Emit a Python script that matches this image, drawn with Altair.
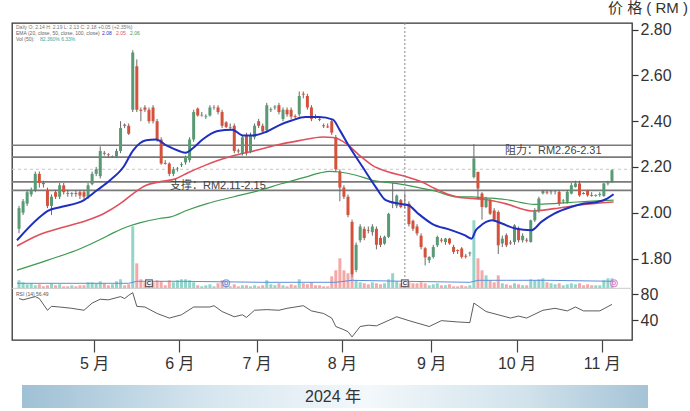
import altair as alt
import pandas as pd

# ---------------- data ----------------
opens = [1.93,2.00,2.04,2.08,2.10,2.17,2.13,2.10,2.03,2.09,
         2.07,2.12,2.085,2.082,2.086,2.09,2.09,2.07,2.125,2.17,
         2.16,2.262,2.255,2.245,2.245,2.27,2.385,2.38,2.45,2.64,
         2.45,2.46,2.45,2.46,2.40,2.32,2.218,2.215,2.17,2.19,
         2.208,2.22,2.23,2.32,2.455,2.425,2.42,2.425,2.46,2.46,
         2.44,2.395,2.375,2.38,2.272,2.26,2.34,2.27,2.33,2.40,
         2.38,2.36,2.448,2.46,2.47,2.41,2.45,2.45,2.422,2.43,
         2.52,2.51,2.46,2.42,2.41,2.382,2.377,2.40,2.33,2.18,
         2.11,2.07,1.96,1.75,1.88,1.93,1.925,1.915,1.93,1.89,
         1.865,1.895,2.04,2.03,2.055,2.036,2.04,1.965,1.94,1.90,
         1.845,1.793,1.807,1.858,1.882,1.872,1.887,1.851,1.837,1.844,
         1.812,1.822,2.156,2.178,2.084,2.025,2.055,2.01,2.003,1.866,
         1.902,1.87,1.872,1.931,1.88,1.882,1.872,1.967,2.011,2.085,
         2.092,2.09,2.093,2.091,2.05,2.048,2.084,2.113,2.128,2.086,
         2.098,2.078,2.074,2.078,2.073,2.128,2.139]
closes = [2.02,2.05,2.09,2.10,2.17,2.13,2.125,2.03,2.07,2.07,
          2.12,2.09,2.082,2.086,2.082,2.075,2.07,2.12,2.17,2.19,
          2.27,2.258,2.252,2.248,2.27,2.37,2.38,2.345,2.70,2.45,
          2.445,2.45,2.40,2.40,2.32,2.215,2.214,2.17,2.19,2.193,
          2.212,2.245,2.32,2.44,2.425,2.428,2.423,2.46,2.462,2.44,
          2.38,2.375,2.372,2.27,2.268,2.33,2.26,2.34,2.38,2.38,
          2.355,2.47,2.452,2.464,2.44,2.45,2.43,2.42,2.418,2.51,
          2.516,2.46,2.41,2.416,2.406,2.378,2.373,2.35,2.19,2.11,
          2.07,1.99,1.73,1.86,1.94,1.89,1.922,1.94,1.86,1.86,
          1.895,1.995,2.044,2.075,2.025,2.032,1.95,1.93,1.91,1.85,
          1.805,1.807,1.85,1.894,1.878,1.887,1.866,1.829,1.833,1.807,
          1.808,1.826,2.237,2.106,2.025,2.062,1.996,1.97,1.858,1.887,
          1.858,1.866,1.945,1.880,1.90,1.878,1.967,2.011,2.062,2.095,
          2.088,2.093,2.097,2.040,2.054,2.091,2.120,2.128,2.076,2.082,
          2.076,2.074,2.078,2.082,2.128,2.135,2.186]
highs = [2.03,2.06,2.10,2.11,2.18,2.18,2.14,2.11,2.08,2.10,
         2.13,2.13,2.10,2.09,2.10,2.10,2.10,2.13,2.18,2.20,
         2.29,2.27,2.26,2.25,2.28,2.40,2.39,2.39,2.71,2.67,
         2.46,2.47,2.46,2.47,2.41,2.33,2.23,2.22,2.20,2.20,
         2.22,2.25,2.33,2.45,2.46,2.44,2.43,2.47,2.47,2.47,
         2.45,2.40,2.39,2.39,2.28,2.34,2.35,2.35,2.39,2.41,
         2.39,2.48,2.46,2.47,2.48,2.46,2.46,2.46,2.43,2.53,
         2.53,2.52,2.47,2.43,2.42,2.39,2.39,2.41,2.34,2.19,
         2.12,2.08,1.97,1.87,1.95,1.94,1.94,1.95,1.94,1.90,
         1.90,2.00,2.13,2.08,2.06,2.085,2.05,1.97,1.95,1.91,
         1.85,1.81,1.86,1.90,1.89,1.89,1.89,1.86,1.84,1.85,
         1.82,1.83,2.30,2.18,2.09,2.07,2.06,2.02,2.01,1.90,
         1.91,1.88,1.95,1.94,1.91,1.89,1.97,2.02,2.07,2.10,
         2.10,2.10,2.10,2.10,2.06,2.10,2.13,2.14,2.14,2.09,
         2.10,2.09,2.08,2.09,2.13,2.14,2.19]
lows = [1.91,1.99,2.03,2.07,2.09,2.11,2.11,2.02,1.99,2.06,
        2.06,2.08,2.07,2.07,2.07,2.06,2.06,2.06,2.12,2.16,
        2.15,2.25,2.24,2.24,2.24,2.26,2.37,2.34,2.44,2.44,
        2.40,2.44,2.39,2.39,2.31,2.21,2.21,2.16,2.16,2.18,
        2.20,2.21,2.22,2.31,2.42,2.42,2.41,2.42,2.45,2.43,
        2.37,2.37,2.36,2.26,2.26,2.25,2.25,2.26,2.32,2.37,
        2.35,2.35,2.44,2.45,2.43,2.40,2.42,2.41,2.41,2.42,
        2.50,2.45,2.40,2.41,2.40,2.37,2.37,2.34,2.18,2.05,
        2.06,1.98,1.72,1.74,1.87,1.88,1.91,1.90,1.84,1.85,
        1.86,1.89,2.02,2.02,2.02,2.02,1.94,1.92,1.90,1.84,
        1.77,1.78,1.80,1.85,1.87,1.86,1.86,1.82,1.82,1.80,
        1.80,1.81,2.15,2.06,1.97,2.02,1.99,1.96,1.82,1.85,
        1.85,1.86,1.86,1.87,1.87,1.87,1.87,1.96,2.00,2.08,
        2.08,2.08,2.08,2.03,2.04,2.04,2.08,2.11,2.07,2.08,
        2.07,2.07,2.07,2.07,2.07,2.12,2.13]
volumes = [8,6,4,5,3,4,2,3,5,3,
           4,2,2,3,2,3,3,6,6,5,
           7,5,3,4,7,9,3,4,62,25,
           9,6,4,6,8,7,3,8,6,8,
           9,9,8,6,3,2,3,4,2,5,
           8,4,2,4,2,3,3,2,3,2,
           3,8,4,3,5,3,2,4,3,9,
           5,4,6,3,3,2,2,12,18,30,
           18,15,13,8,6,5,4,6,5,4,
           5,9,15,7,5,4,6,5,5,6,
           5,3,4,5,3,3,4,2,2,3,
           2,3,68,30,18,13,8,6,13,5,
           4,3,5,4,3,3,9,8,9,10,
           6,5,4,5,3,4,5,4,5,3,
           4,3,3,3,8,10,10]

# moving averages (day position, value)
ema20_days = [-0.5,4.7,7.1,10.3,16,19.2,22.4,25.7,28.1,31.3,33.7,36.4,39.4,41,43,45.2,48.9,52.5,55.1,57.6,60.8,64,67.3,70.5,73.9,77.3,79,81.4,84.6,87.8,90.3,93.5,95.9,98.3,101.6,106.4,109.7,111.4,112.5,113.3,116.5,118.9,122.2,126.2,128.6,131.8,135.9,139.1,142.4,144.8,146.4]
ema20_vals = [1.88,1.975,2.008,2.025,2.055,2.098,2.142,2.20,2.273,2.317,2.32,2.293,2.27,2.262,2.285,2.32,2.357,2.363,2.338,2.338,2.353,2.382,2.404,2.418,2.418,2.407,2.36,2.287,2.20,2.113,2.055,2.04,2.033,1.996,1.953,1.924,1.902,1.887,1.924,1.938,1.967,1.953,1.931,1.924,1.96,1.996,2.025,2.04,2.047,2.062,2.081]
ema50_days = [-0.5,4.7,11.1,16.8,20.8,24.9,28.1,31.3,34.6,38.6,41.6,45.8,49.1,52.5,58.4,63.2,68.7,74.9,77.3,80.6,83.8,87,91,95.1,99.1,102.4,105.6,108,111.7,114.9,119.7,126.2,131.8,137.5,146.4]
ema50_vals = [1.855,1.902,1.938,1.967,1.996,2.04,2.084,2.12,2.135,2.149,2.175,2.207,2.229,2.248,2.273,2.295,2.314,2.331,2.329,2.302,2.251,2.207,2.178,2.159,2.135,2.106,2.081,2.069,2.062,2.058,2.04,2.008,2.018,2.033,2.047]
ema100_days = [-0.5,7.1,15.2,20,23.2,26.5,29.7,34.6,37.4,41.4,46.3,52.7,59.2,64.8,70.5,74.1,76.5,78.9,83,87,92.7,97.5,102.4,108,111.7,114.9,119.7,127,131.8,137.5,146.4]
ema100_vals = [1.749,1.793,1.844,1.883,1.912,1.938,1.956,1.975,1.982,2.011,2.04,2.069,2.098,2.128,2.156,2.174,2.181,2.178,2.164,2.142,2.128,2.113,2.095,2.069,2.069,2.065,2.058,2.037,2.04,2.047,2.055]
volma_days = [-0.5,27,29,40,60,78,82,95,111,113,120,130,146.5]
volma_vals = [5,5,7,7,6,6,8,7,6,8,8,8,7]

osc_days = [0,1,4,5,7,8,10,13,16,18,20,22,25,26,27,28,29,31,34,37,40,43,47,48,50,53,55,56,58,61,
            64,66,70,72,75,77,78,80,81,82,84,86,88,93,96,101,104,108,111,112,115,118,121,123,125,129,132,135,137,139,143,146]
osc_vals = [73,71,76,73,55,61,60,58,55,66,72,71,76,73,78,82,61,60,50,43,48,60,60,62,53,45,48,44,55,56,
            55,58,62,54,50,43,30,25,22,14,30,32,31,45,39,30,39,37,36,66,53,48,43,46,43,55,58,54,60,54,54,64]

level_prices = [2.295, 2.243, 2.135, 2.098]
grid_price = [2.19]
marker_days = [32, 51, 95, 146.5]
marker_types = ["C", "D", "C", "D"]
marker_colors = ["#333333", "#4a7fd6", "#333333", "#d46fc2"]
marker_shapes = ["square", "circle", "square", "circle"]

month_first_day = [19, 40, 59, 80, 102, 123, 144]
month_labels = ["5 月", "6 月", "7 月", "8 月", "9 月", "10 月", "11 月"]
price_ticks = [1.8, 2.0, 2.2, 2.4, 2.6, 2.8]
osc_ticks = [40, 80]

# ---------------- frames ----------------
n = len(closes)
df = pd.DataFrame({"idx": list(range(n)), "open": opens, "close": closes,
                   "high": highs, "low": lows, "vol": volumes})
df["dir"] = ["up" if c >= o else "down" for o, c in zip(opens, closes)]

ema20 = pd.DataFrame({"idx": ema20_days, "v": ema20_vals})
ema50 = pd.DataFrame({"idx": ema50_days, "v": ema50_vals})
ema100 = pd.DataFrame({"idx": ema100_days, "v": ema100_vals})
volma = pd.DataFrame({"idx": volma_days, "v": volma_vals})
osc = pd.DataFrame({"idx": osc_days, "v": osc_vals})
levels = pd.DataFrame({"p": level_prices})
grid = pd.DataFrame({"p": grid_price})
markers = pd.DataFrame({"idx": marker_days, "t": marker_types, "c": marker_colors,
                        "s": marker_shapes, "v": [5] * 4})
vline = pd.DataFrame({"idx": [95]})

FONT = "Liberation Sans, Noto Sans CJK SC"
W, H = 620, 317

tick_vals = [d - 0.5 for d in month_first_day]
label_expr = "''"
for v, l in reversed(list(zip(tick_vals, month_labels))):
    label_expr = f"datum.value == {v} ? '{l}' : {label_expr}"

xscale = alt.Scale(domain=[-0.5, 149.7], nice=False, zero=False)
x_enc = alt.X("idx:Q", scale=xscale, title=None,
              axis=alt.Axis(values=tick_vals, labelExpr=label_expr, orient="bottom",
                            tickSize=12, tickColor="#444", tickWidth=1.2, domain=False,
                            grid=False, labelFontSize=16, labelColor="#333",
                            labelFont=FONT, labelPadding=3))

pscale = alt.Scale(domain=[1.670, 2.829], range=[265.3, 0], nice=False, zero=False)
vscale = alt.Scale(domain=[0, 265.3], range=[265.3, 0], nice=False, zero=False)
oscale = alt.Scale(domain=[0, 100], range=[323, 258], nice=False, zero=False)

price_axis = alt.Axis(values=price_ticks, format=".2f", orient="right", tickSize=6,
                      tickColor="#333", tickWidth=1.2, domain=False, grid=False,
                      labelFontSize=16, labelColor="#333", labelFont=FONT, labelPadding=2)
osc_axis = alt.Axis(values=osc_ticks, format="d", orient="right", tickSize=6,
                    tickColor="#333", tickWidth=1.2, domain=False, grid=False,
                    labelFontSize=16, labelColor="#333", labelFont=FONT, labelPadding=2)

updown = alt.Color("dir:N", scale=alt.Scale(domain=["up", "down"], range=["#579a74", "#d4523c"]), legend=None)
volcol = alt.Color("dir:N", scale=alt.Scale(domain=["up", "down"], range=["#93d5cb", "#f4a9a7"]), legend=None)

base = alt.Chart(df)

# price layers
wicks = base.mark_rule(color="#6a6a6a", strokeWidth=1).encode(
    x=x_enc, y=alt.Y("low:Q", scale=pscale, axis=price_axis, title=None), y2="high:Q")
bodies = base.mark_bar(size=3).encode(
    x=x_enc, y=alt.Y("open:Q", scale=pscale, axis=None), y2="close:Q", color=updown)

grid_rule = alt.Chart(grid).mark_rule(color="#c8c8c8", strokeDash=[3, 3], strokeWidth=1).encode(
    y=alt.Y("p:Q", scale=pscale, axis=None), x=alt.value(0), x2=alt.value(W))
level_rules = alt.Chart(levels).mark_rule(color="#7a7a7a", strokeWidth=1.6).encode(
    y=alt.Y("p:Q", scale=pscale, axis=None), x=alt.value(0), x2=alt.value(W))

def ma(d, color, width):
    return alt.Chart(d).mark_line(color=color, strokeWidth=width, interpolate="monotone").encode(
        x=x_enc, y=alt.Y("v:Q", scale=pscale, axis=None))

l100 = ma(ema100, "#3e9a4e", 1.2)
l50 = ma(ema50, "#e0505c", 1.6)
l20 = ma(ema20, "#1f2fc0", 2.0)

vrule = alt.Chart(vline).mark_rule(color="#888", strokeDash=[2, 2], strokeWidth=1).encode(
    x=x_enc, y=alt.value(0), y2=alt.value(255))

# volume layers
vbars = base.mark_bar(size=3).encode(
    x=x_enc, y=alt.Y("vol:Q", scale=vscale, axis=None), y2=alt.datum(0), color=volcol)
vbase = alt.Chart(pd.DataFrame({"v": [0]})).mark_rule(color="#c9c9c9", strokeWidth=1).encode(
    y=alt.Y("v:Q", scale=vscale, axis=None), x=alt.value(0), x2=alt.value(W))
vma = alt.Chart(volma).mark_line(color="#5a8fdc", strokeWidth=1).encode(
    x=x_enc, y=alt.Y("v:Q", scale=vscale, axis=None))
mpts = alt.Chart(markers).mark_point(size=45, filled=True, fill="white", strokeWidth=1.2).encode(
    x=x_enc, y=alt.Y("v:Q", scale=vscale, axis=None),
    shape=alt.Shape("s:N", scale=None), stroke=alt.Stroke("c:N", scale=None))
mtxt = alt.Chart(markers).mark_text(fontSize=6, font=FONT, fontWeight="bold").encode(
    x=x_enc, y=alt.Y("v:Q", scale=vscale, axis=None), text="t:N",
    color=alt.Color("c:N", scale=None))

# oscillator
oscl = alt.Chart(osc).mark_line(color="#333", strokeWidth=0.8).encode(
    x=x_enc, y=alt.Y("v:Q", scale=oscale, axis=osc_axis, title=None))

# annotations / decorations
def txt(s, x, y, size=11, color="#444", align="left", baseline="middle", weight="normal"):
    return alt.Chart(pd.DataFrame({"t": [s]})).mark_text(
        fontSize=size, color=color, align=align, baseline=baseline, font=FONT,
        fontWeight=weight).encode(text="t:N", x=alt.value(x), y=alt.value(y))

support = txt("支撑：RM2.11-2.15", 158, 163, 11)
resist = txt("阻力：RM2.26-2.31", 493, 128, 11)
title = txt("价 格 ( RM )", 676, -15, 15, "#333", "right")
head1 = txt("Daily  O: 2.14  H: 2.19  L: 2.13  C: 2.18  +0.05 (+2.35%)", 4, 2, 5, "#777", "left", "top")
head2 = txt("EMA (20, close, 50, close, 100, close)", 4, 8, 5, "#666", "left", "top")
head2a = txt("2.08", 90, 8, 5, "#1f2fc0", "left", "top")
head2b = txt("2.05", 104, 8, 5, "#e0505c", "left", "top")
head2c = txt("2.06", 118, 8, 5, "#3e9a4e", "left", "top")
head3 = txt("Vol (50):", 4, 14, 5, "#666", "left", "top")
head3a = txt("82.360%  6.33%", 28, 14, 5, "#3aa69a", "left", "top")
osclab = txt("RSI (14)  56.49", 4, 269, 5, "#555", "left", "top")

band = alt.Chart(pd.DataFrame({"a": [0]})).mark_rect(
    color=alt.Gradient(gradient="linear", x1=0, x2=1, y1=0, y2=0,
                       stops=[alt.GradientStop(color="#9fc0d5", offset=0),
                              alt.GradientStop(color="#d6e6ef", offset=0.3),
                              alt.GradientStop(color="#f3f8fb", offset=0.55),
                              alt.GradientStop(color="#d2e3ec", offset=0.8),
                              alt.GradientStop(color="#a4c3d6", offset=1)])).encode(
    x=alt.value(10), x2=alt.value(636), y=alt.value(362), y2=alt.value(385))
year = txt("2024 年", 321, 374, 16, "#333", "center")

chart = alt.layer(
    grid_rule, level_rules, l100, l50, vrule, vbars, vbase, vma, wicks, bodies, l20,
    mpts, mtxt, oscl, support, resist, title, head1, head2, head2a, head2b, head2c,
    head3, head3a, osclab, band, year
).resolve_scale(y="independent", color="independent").properties(
    width=W, height=H,
    autosize=alt.AutoSizeParams(type="none"),
    padding={"left": 12, "top": 23, "right": 58, "bottom": 71},
    background="white"
).configure_view(stroke="#333", strokeWidth=1.3)

chart.save("out.html", embed_options={"renderer": "svg", "actions": False})
